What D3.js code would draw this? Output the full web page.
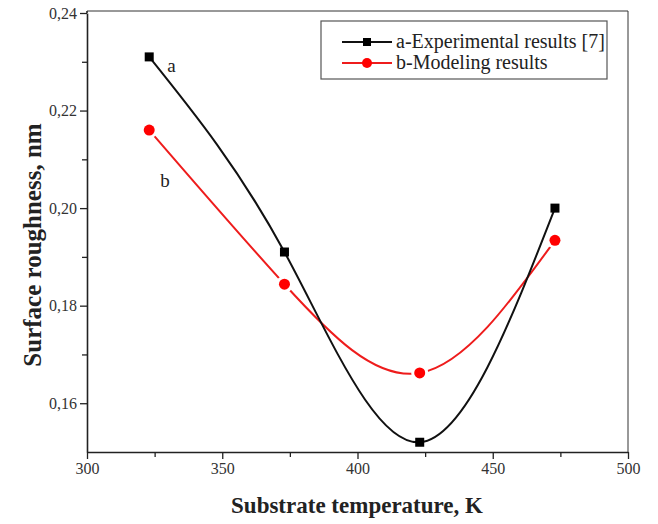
<!DOCTYPE html>
<html>
<head>
<meta charset="utf-8">
<script src="https://cdn.jsdelivr.net/npm/d3@7"></script>
<style>
  body { margin: 0; background: #fff; }
  text { font-family: "Liberation Serif", "Times New Roman", serif; fill: #222; }
</style>
</head>
<body>
<script>
// data
var temps = [323, 373, 423, 473];
var experimental = [0.231, 0.191, 0.152, 0.200];
var modeling = [0.216, 0.1844, 0.1662, 0.1934];
var xTicks = [300, 350, 400, 450, 500];
var yTicks = [0.16, 0.18, 0.20, 0.22, 0.24];
var seriesNames = ["a-Experimental results [7]", "b-Modeling results"];

var w = 658, h = 524;
var plotL = 87, plotR = 628, plotT = 13, plotB = 452;

var svg = d3.select("body").append("svg")
    .attr("width", w)
    .attr("height", h);

var x = d3.scaleLinear().domain([300, 500]).range([plotL, plotR]);
var y = d3.scaleLinear().domain([0.15, 0.24]).range([plotB, plotT]);

var fmt = function (d) { return d3.format(".2f")(d).replace(".", ","); };

// frame top/right
svg.append("line").attr("x1", plotL).attr("x2", plotR).attr("y1", plotT - 2).attr("y2", plotT - 2)
    .style("stroke", "#333").style("stroke-width", 1);
svg.append("line").attr("x1", plotR).attr("x2", plotR).attr("y1", plotT - 2).attr("y2", plotB)
    .style("stroke", "#333").style("stroke-width", 1);

// minor ticks
var xMinor = d3.axisBottom(x).tickValues([325, 375, 425, 475]).tickSize(5).tickFormat("");
var yMinor = d3.axisLeft(y).tickValues([0.17, 0.19, 0.21, 0.23]).tickSize(5).tickFormat("");

svg.append("g")
    .attr("transform", "translate(0," + plotB + ")")
    .call(d3.axisBottom(x).tickValues(xTicks).tickSize(7).tickSizeOuter(0).tickPadding(4));
svg.append("g").attr("transform", "translate(0," + plotB + ")").call(xMinor)
    .select(".domain").remove();

svg.append("g")
    .attr("transform", "translate(" + plotL + ",0)")
    .call(d3.axisLeft(y).tickValues(yTicks).tickFormat(fmt).tickSize(7).tickSizeOuter(0).tickPadding(3));
svg.append("g").attr("transform", "translate(" + plotL + ",0)").call(yMinor)
    .select(".domain").remove();

// left axis reaches the top frame
svg.append("line").attr("x1", plotL).attr("x2", plotL).attr("y1", plotT - 2).attr("y2", plotT)
    .style("stroke", "#222").style("stroke-width", 1.6);

svg.selectAll(".domain").style("stroke", "#222").style("stroke-width", 1.6);
svg.selectAll(".tick line").style("stroke", "#222").style("stroke-width", 1.3);
svg.selectAll(".tick text").style("font-size", "16px").style("font-family", "'Liberation Serif', serif").style("fill", "#333");

// axis titles
svg.append("text")
    .attr("transform", "translate(41,245) rotate(-90)")
    .attr("text-anchor", "middle")
    .style("font-size", "25px")
    .style("font-weight", "bold")
    .text("Surface roughness, nm");

svg.append("text")
    .attr("x", 357)
    .attr("y", 513)
    .attr("text-anchor", "middle")
    .style("font-size", "23px")
    .style("font-weight", "bold")
    .text("Substrate temperature, K");

var line = d3.line()
    .x(function (d) { return x(d[0]); })
    .y(function (d) { return y(d[1]); })
    .curve(d3.curveNatural);

var expData = temps.map(function (t, i) { return [t, experimental[i]]; });
var modData = temps.map(function (t, i) { return [t, modeling[i]]; });

// red curve with small gaps at its markers
svg.append("path").datum(modData)
    .attr("d", line)
    .style("fill", "none").style("stroke", "#ee1c1c").style("stroke-width", 2);
svg.selectAll(".gap").data(modData).enter().append("circle")
    .attr("cx", function (d) { return x(d[0]); })
    .attr("cy", function (d) { return y(d[1]); })
    .attr("r", 8.5)
    .style("fill", "#fff");

svg.append("path").datum(expData)
    .attr("d", line)
    .style("fill", "none").style("stroke", "#111").style("stroke-width", 2);

svg.selectAll(".dot").data(modData).enter().append("circle")
    .attr("cx", function (d) { return x(d[0]); })
    .attr("cy", function (d) { return y(d[1]); })
    .attr("r", 5.5)
    .style("fill", "#ff0000");

svg.selectAll(".sq").data(expData).enter().append("rect")
    .attr("x", function (d) { return x(d[0]) - 4.5; })
    .attr("y", function (d) { return y(d[1]) - 4.5; })
    .attr("width", 9).attr("height", 9)
    .style("fill", "#000");

// curve labels
svg.append("text").attr("x", x(temps[0]) + 18).attr("y", y(experimental[0]) + 15)
    .style("font-size", "19px").text("a");
svg.append("text").attr("x", x(temps[0]) + 11).attr("y", y(modeling[0]) + 57)
    .style("font-size", "19px").text("b");

// legend
var legend = svg.append("g").attr("transform", "translate(321,21)");
legend.append("rect").attr("width", 286).attr("height", 58)
    .style("fill", "#fff").style("stroke", "#555").style("stroke-width", 1.2);
var colors = ["#111", "#ee1c1c"];
seriesNames.forEach(function (name, i) {
    var cy = 21 + i * 21;
    legend.append("line").attr("x1", 21).attr("x2", 71).attr("y1", cy).attr("y2", cy)
        .style("stroke", colors[i]).style("stroke-width", 2);
    if (i === 0) {
        legend.append("rect").attr("x", 42).attr("y", cy - 4).attr("width", 8).attr("height", 8)
            .style("fill", "#000");
    } else {
        legend.append("circle").attr("cx", 46).attr("cy", cy).attr("r", 5).style("fill", "#ff0000");
    }
    legend.append("text").attr("x", 75).attr("y", cy + 6)
        .style("font-size", "20px").text(name);
});
</script>
</body>
</html>
